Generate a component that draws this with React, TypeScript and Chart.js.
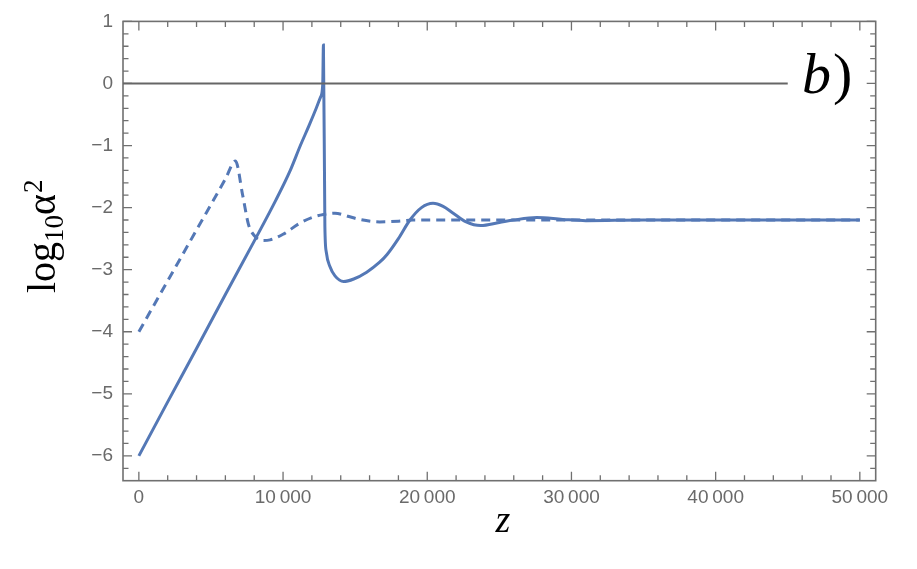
import React, { useEffect, useRef } from "react";
import { Chart, registerables } from "chart.js";

Chart.register(...registerables);

// ---- data ----
const solidZ = [0, 2000, 4000, 6000, 8000, 9500, 10500, 11200, 11800, 12300, 12600, 12750, 12800, 12900, 13000, 13250, 13600, 14200, 14900, 15800, 16700, 17200, 18000, 18800, 19600, 20400, 21100, 21800, 22700, 23700, 25000, 26000, 27600, 29400, 31000, 35000, 40000, 45000, 50000];
const solidLog = [-6, -5.13, -4.27, -3.4, -2.54, -1.88, -1.4, -1.0, -0.68, -0.4, -0.22, -0.02, 0.62, -2.3, -2.72, -2.95, -3.1, -3.19, -3.15, -3.04, -2.88, -2.76, -2.5, -2.2, -2.0, -1.93, -1.98, -2.09, -2.23, -2.29, -2.24, -2.2, -2.16, -2.19, -2.21, -2.2, -2.2, -2.2, -2.2];

const dashedZ = [0, 2000, 4000, 6000, 6700, 7200, 7600, 8000, 8600, 9100, 10000, 11100, 12000, 12800, 13600, 14500, 15300, 16700, 18000, 19000, 25000, 35000, 50000];
const dashedLog = [-4, -3.18, -2.36, -1.54, -1.25, -1.8, -2.27, -2.45, -2.53, -2.52, -2.43, -2.26, -2.16, -2.11, -2.09, -2.14, -2.19, -2.23, -2.22, -2.2, -2.2, -2.2, -2.2];

const zeroLineZ = [-1100, 45000];
const zeroLineLog = [0, 0];

const xTickValues = [0, 10000, 20000, 30000, 40000, 50000];
const xTickLabels = ["0", "10\u2009000", "20\u2009000", "30\u2009000", "40\u2009000", "50\u2009000"];
const yTickValues = [1, 0, -1, -2, -3, -4, -5, -6];
const yTickLabels = ["1", "0", "\u22121", "\u22122", "\u22123", "\u22124", "\u22125", "\u22126"];
const xMinorTicks = [2000, 4000, 6000, 8000, 12000, 14000, 16000, 18000, 22000, 24000, 26000, 28000, 32000, 34000, 36000, 38000, 42000, 44000, 46000, 48000];
const yMinorTicks = [0.8, 0.6, 0.4, 0.2, -0.2, -0.4, -0.6, -0.8, -1.2, -1.4, -1.6, -1.8, -2.2, -2.4, -2.6, -2.8, -3.2, -3.4, -3.6, -3.8, -4.2, -4.4, -4.6, -4.8, -5.2, -5.4, -5.6, -5.8, -6.2];

const xRange = [-1100, 51100];
const yRange = [-6.4, 1];

const BLUE = "#5478b6";
const FRAME = "#707070";
const TICK_TEXT = "#6a6a6a";
const SERIF = "'Liberation Serif', 'Times New Roman', Times, serif";

const toXY = (xs: number[], ys: number[]) => xs.map((x, i) => ({ x, y: ys[i] }));

const framePlugin = {
  id: "frameTicks",
  beforeDatasetsDraw(chart: any) {
    const { ctx, chartArea: a, scales } = chart;
    const x = scales.x;
    const y = scales.y;
    ctx.save();
    ctx.strokeStyle = FRAME;
    ctx.lineWidth = 1.6;
    ctx.strokeRect(a.left, a.top, a.right - a.left, a.bottom - a.top);
    ctx.lineWidth = 1.3;
    const major = 9;
    const minor = 5.5;
    const vt = (v: number, len: number) => {
      const px = x.getPixelForValue(v);
      ctx.beginPath();
      ctx.moveTo(px, a.bottom);
      ctx.lineTo(px, a.bottom - len);
      ctx.moveTo(px, a.top);
      ctx.lineTo(px, a.top + len);
      ctx.stroke();
    };
    const ht = (v: number, len: number) => {
      const py = y.getPixelForValue(v);
      ctx.beginPath();
      ctx.moveTo(a.left, py);
      ctx.lineTo(a.left + len, py);
      ctx.moveTo(a.right, py);
      ctx.lineTo(a.right - len, py);
      ctx.stroke();
    };
    xTickValues.forEach((v) => vt(v, major));
    xMinorTicks.forEach((v) => vt(v, minor));
    yTickValues.forEach((v) => ht(v, major));
    yMinorTicks.forEach((v) => ht(v, minor));
    ctx.restore();
  },
  afterDraw(chart: any) {
    const { ctx } = chart;
    ctx.save();
    ctx.fillStyle = "#000";
    ctx.textBaseline = "alphabetic";
    // y-axis title: log10 alpha^2, rotated
    ctx.translate(55, 293);
    ctx.rotate(-Math.PI / 2);
    let cx = 0;
    ctx.font = "40px " + SERIF;
    ctx.fillText("log", cx, 0);
    cx += ctx.measureText("log").width;
    ctx.font = "27px " + SERIF;
    ctx.fillText("10", cx, 8);
    cx += ctx.measureText("10").width;
    ctx.font = "40px " + SERIF;
    ctx.fillText("\u03b1", cx, 0);
    cx += ctx.measureText("\u03b1").width;
    ctx.font = "27px " + SERIF;
    ctx.fillText("2", cx + 1, -13);
    ctx.restore();

    ctx.save();
    ctx.fillStyle = "#000";
    ctx.textBaseline = "alphabetic";
    ctx.textAlign = "center";
    ctx.font = "italic 38px " + SERIF;
    ctx.fillText("z", 503, 532);
    ctx.textAlign = "left";
    ctx.font = "italic 58px " + SERIF;
    ctx.fillText("b", 802, 93);
    const bw = ctx.measureText("b").width;
    ctx.font = "58px " + SERIF;
    ctx.fillText(")", 802 + bw + 2, 93);
    ctx.restore();
  },
};

export default function App() {
  const ref = useRef<HTMLCanvasElement | null>(null);
  useEffect(() => {
    if (!ref.current) return;
    const chart = new Chart(ref.current, {
      type: "line",
      data: {
        datasets: [
          {
            data: toXY(zeroLineZ, zeroLineLog),
            borderColor: "#666666",
            borderWidth: 2,
            pointRadius: 0,
            tension: 0,
          },
          {
            data: toXY(solidZ, solidLog),
            borderColor: BLUE,
            borderWidth: 3,
            pointRadius: 0,
            cubicInterpolationMode: "monotone",
          },
          {
            data: toXY(dashedZ, dashedLog),
            borderColor: BLUE,
            borderWidth: 3,
            borderDash: [9, 6],
            pointRadius: 0,
            cubicInterpolationMode: "monotone",
          },
        ],
      },
      options: {
        responsive: false,
        animation: false,
        events: [],
        layout: { padding: { left: 0, top: 15, right: 41.3, bottom: 0 } },
        plugins: { legend: { display: false }, tooltip: { enabled: false } },
        scales: {
          x: {
            type: "linear",
            min: xRange[0],
            max: xRange[1],
            afterFit: (s: any) => {
              s.height = 88.3;
            },
            afterBuildTicks: (s: any) => {
              s.ticks = xTickValues.map((v) => ({ value: v }));
            },
            grid: { display: false, drawTicks: false },
            border: { display: false },
            ticks: {
              autoSkip: false,
              maxRotation: 0,
              padding: 6,
              color: TICK_TEXT,
              font: { family: "'Liberation Sans', Arial, sans-serif", size: 19 },
              callback: (v: any) => {
                const i = xTickValues.indexOf(Number(v));
                return i >= 0 ? xTickLabels[i] : "";
              },
            },
          },
          y: {
            type: "linear",
            min: yRange[0],
            max: yRange[1],
            afterFit: (s: any) => {
              s.width = 123;
            },
            afterBuildTicks: (s: any) => {
              s.ticks = yTickValues.map((v) => ({ value: v }));
            },
            grid: { display: false, drawTicks: false },
            border: { display: false },
            ticks: {
              autoSkip: false,
              padding: 10,
              color: TICK_TEXT,
              font: { family: "'Liberation Sans', Arial, sans-serif", size: 19 },
              callback: (v: any) => {
                const i = yTickValues.indexOf(Number(v));
                return i >= 0 ? yTickLabels[i] : "";
              },
            },
          },
        },
      },
      plugins: [framePlugin],
    } as any);
    return () => chart.destroy();
  }, []);
  return (
    <div style={{ position: "absolute", left: 0, top: 0, width: 917, height: 569, background: "#fff" }}>
      <canvas ref={ref} width={917} height={569} style={{ display: "block" }} />
    </div>
  );
}
